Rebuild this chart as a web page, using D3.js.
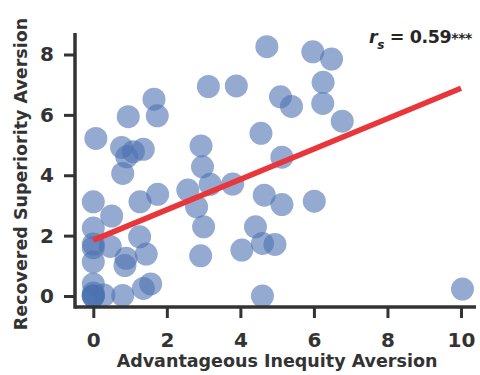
<!DOCTYPE html>
<html>
<head>
<meta charset="utf-8">
<script src="https://cdn.jsdelivr.net/npm/d3@7"></script>
<style>
  body { margin: 0; background: #fff; }
  svg { display: block; }
</style>
</head>
<body>
<div id="chart"></div>
<script>
// Datos
const advInequity = [4.72, 5.97, 6.48, 6.25, 3.13, 3.89, 5.09, 5.39, 1.65, 1.74, 0.95, 6.24, 6.77, 4.56, 0.07,
  0.77, 1.36, 1.09, 0.91, 0.80, 2.93, 5.13, 2.97, 3.18, 3.79, 2.57, 1.75, 0, 1.27, 4.65, 5.13, 6.01, 2.81, 0.50,
  3.00, 4.41, 4.60, 4.94, 4.04, 2.92, 0, 1.26, 0, 0.46, 1.44, 0.89, 0.86, 0, 0, 1.56, 1.36, 0.80, 0.29, 4.60,
  10.04, 0, 0, 0, 0, 0];
const recSuperiority = [8.26, 8.09, 7.85, 7.08, 6.94, 6.96, 6.60, 6.28, 6.52, 5.97, 5.94, 6.38, 5.79, 5.39, 5.22,
  4.92, 4.86, 4.78, 4.61, 4.06, 4.97, 4.60, 4.28, 3.70, 3.71, 3.51, 3.37, 3.12, 3.12, 3.34, 3.03, 3.14, 2.95, 2.65,
  2.29, 2.29, 1.74, 1.71, 1.52, 1.33, 2.25, 1.96, 1.72, 1.64, 1.39, 1.25, 1.01, 1.13, 0.40, 0.40, 0.25, 0.02, 0.03, 0,
  0.23, 0, 0, 0, 0.1, 1.6];
const xTicks = [0, 2, 4, 6, 8, 10];
const yTicks = [0, 2, 4, 6, 8];
const fitLine = [[0, 1.85], [10, 6.88]]; // recta de regresión
const statLabel = { r: "r", sub: "s", rest: " = 0.59", stars: "***" };

const width = 480, height = 375;
const font = "'DejaVu Sans', sans-serif";
const ink = "#333";

const points = advInequity.map((v, i) => ({ x: v, y: recSuperiority[i] }));

const svg = d3.select("#chart").append("svg")
  .attr("width", width)
  .attr("height", height);

const x = d3.scaleLinear().domain([0, 10]).range([93.3, 461]);
const y = d3.scaleLinear().domain([0, 8]).range([296, 54.5]);

// Spines desplazados (estilo despine)
const spineX = 307, spineY = 75;

// --- Puntos ---
svg.append("g").selectAll("circle")
  .data(points).enter().append("circle")
  .attr("cx", d => x(d.x))
  .attr("cy", d => y(d.y))
  .attr("r", 11.5)
  .attr("fill", "#4c72b0")
  .attr("fill-opacity", 0.6);

// --- Recta de ajuste ---
svg.append("path")
  .datum(fitLine)
  .attr("d", d3.line().x(d => x(d[0])).y(d => y(d[1])))
  .attr("stroke", "#e8363b")
  .attr("stroke-width", 5.5)
  .attr("fill", "none");

// --- Ejes ---
const gx = svg.append("g").attr("transform", `translate(0,${spineX})`)
  .call(d3.axisBottom(x).tickValues(xTicks).tickSize(11).tickPadding(15));
const gy = svg.append("g").attr("transform", `translate(${spineY},0)`)
  .call(d3.axisLeft(y).tickValues(yTicks).tickSize(11).tickPadding(10));

[gx, gy].forEach(g => {
  g.select(".domain").remove();
  g.selectAll(".tick line").attr("stroke", ink).attr("stroke-width", 3);
  g.selectAll(".tick text")
    .attr("fill", ink)
    .style("font-family", font)
    .style("font-size", "20px")
    .style("font-weight", "bold");
});

svg.append("line")
  .attr("x1", spineY).attr("x2", 476)
  .attr("y1", spineX).attr("y2", spineX)
  .attr("stroke", ink).attr("stroke-width", 3.5);
svg.append("line")
  .attr("x1", spineY).attr("x2", spineY)
  .attr("y1", 33).attr("y2", spineX + 1.75)
  .attr("stroke", ink).attr("stroke-width", 3.5);

// --- Etiquetas ---
svg.append("text")
  .attr("x", 277).attr("y", 367)
  .attr("text-anchor", "middle")
  .attr("fill", ink)
  .style("font-family", font).style("font-size", "17.5px").style("font-weight", "bold")
  .text("Advantageous Inequity Aversion");

svg.append("text")
  .attr("transform", "translate(27,174) rotate(-90)")
  .attr("text-anchor", "middle")
  .attr("fill", ink)
  .style("font-family", font).style("font-size", "17.5px").style("font-weight", "bold")
  .text("Recovered Superiority Aversion");

const stat = svg.append("text")
  .attr("x", 472).attr("y", 43)
  .attr("text-anchor", "end")
  .attr("fill", "#262626")
  .style("font-family", font).style("font-size", "17.5px").style("font-weight", "bold")
  .style("letter-spacing", "-0.4px");
stat.append("tspan").style("font-style", "italic").text(statLabel.r);
stat.append("tspan").attr("dy", 6).style("font-size", "12px").style("font-style", "italic").text(statLabel.sub);
stat.append("tspan").attr("dy", -6).text(statLabel.rest);
stat.append("tspan").style("font-size", "14px").text(statLabel.stars);
</script>
</body>
</html>
